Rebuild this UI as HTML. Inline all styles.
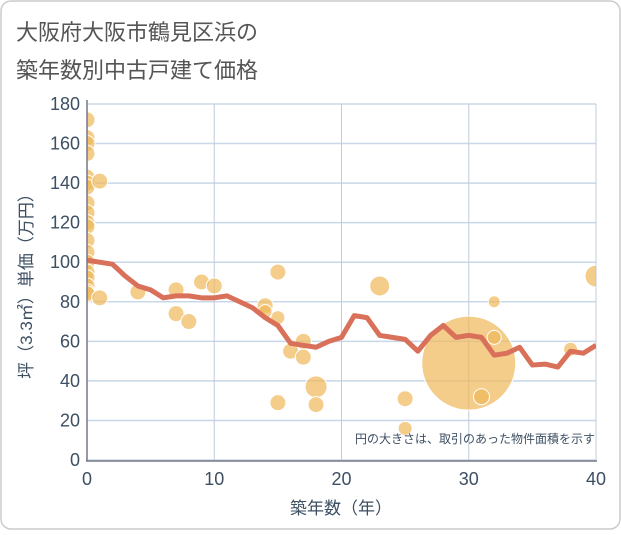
<!DOCTYPE html>
<html><head><meta charset="utf-8"><style>
body{margin:0;background:#fff;font-family:"Liberation Sans","Noto Sans CJK JP",sans-serif}
#wrap{position:relative;width:621px;height:530px}
</style></head><body>
<div id="wrap">
<svg id="c" width="621" height="530" xmlns="http://www.w3.org/2000/svg">
<defs><clipPath id="pc"><rect x="87" y="100" width="509" height="361"/></clipPath></defs>
<rect x="1" y="1" width="619" height="528" rx="10" fill="#fff" stroke="#ccc" stroke-width="1.5"/>
<text x="16" y="40" font-size="22" fill="#555" font-family="Liberation Sans,Noto Sans CJK JP,sans-serif">大阪府大阪市鶴見区浜の</text>
<text x="16" y="78" font-size="22" fill="#555" font-family="Liberation Sans,Noto Sans CJK JP,sans-serif">築年数別中古戸建て価格</text>
<g id="grid"></g><g id="bub" clip-path="url(#pc)"></g><g id="ln" clip-path="url(#pc)"></g><g id="ax"></g>
<text x="595" y="443" font-size="12" fill="#3d4f63" text-anchor="end" font-family="Liberation Sans,Noto Sans CJK JP,sans-serif">円の大きさは、取引のあった物件面積を示す</text>
<text x="341" y="514" font-size="17" fill="#3d4f63" text-anchor="middle" font-family="Liberation Sans,Noto Sans CJK JP,sans-serif">築年数（年）</text>
<text transform="translate(32,282) rotate(-90)" font-size="17" fill="#3d4f63" text-anchor="middle" font-family="Liberation Sans,Noto Sans CJK JP,sans-serif">坪（3.3㎡）単価（万円）</text>
</svg></div>
<script>
const xTicks=[0,10,20,30,40];
const yTicks=[0,20,40,60,80,100,120,140,160,180];
const lineYears=[0,2,3,4,5,6,7,8,9,10,11,12,13,14,15,16,17,18,19,20,21,22,23,24,25,26,27,28,29,30,31,32,33,34,35,36,37,38,39,40];
const lineValues=[101,99,93,88,86,82,83,83,82,82,83,80,77,72,68,59,58,57,60,62,73,72,63,62,61,55,63,68,62,63,62,53,54,57,48,48.5,47,55,54,58];
const bubbleX=[0,0,0,0,0,0,0,0,0,0,0,0,0,0,0,0,0,0,0,1,1,4,7,7,8,9,10,14,14,15,15,15,16,17,17,18,18,23,25,25,30,31,32,32,38,40];
const bubbleY=[172,163,160,155,143,140,138,130,125,120,118,111,105,100,95,92,88,85,84,141,82,85,86,74,70,90,88,78,75,95,72,29,55,60,52,37,28,88,31,16,49,32,80,62,56,93];
const bubbleR=[8,8,8,8,8,8,8,8,8,8,8,8,8,8,8,8,8,8,8,8,8,8,8,8,8,8,8,8,7,8,7,8,8,8,8,11,8,10,8,7,47,8,6,7,7,11];
const X=v=>87+v*(596-87)/40, Y=v=>460-v*(460-104)/180;
const NS="http://www.w3.org/2000/svg";
function mk(p,t,a){const e=document.createElementNS(NS,t);for(const k in a)e.setAttribute(k,a[k]);p.appendChild(e);return e;}
const g=document.getElementById('grid'),ax=document.getElementById('ax');
yTicks.forEach(v=>{const l=mk(g,'line',{x1:87,x2:596,y1:Y(v),y2:Y(v),stroke:'#c8d8e8','stroke-width':1.5});


const t=mk(ax,'text',{x:80,y:Y(v)+6,'font-size':18,fill:'#3d4f63','text-anchor':'end'});t.textContent=v;

});
xTicks.forEach(v=>{const l=mk(g,'line',{x1:X(v),x2:X(v),y1:104,y2:460,stroke:'#c0ccd8','stroke-width':1});


const t=mk(ax,'text',{x:X(v),y:485,'font-size':18,fill:'#3d4f63','text-anchor':'middle'});t.textContent=v;

});
const a1=mk(ax,'line',{x1:87,x2:87,y1:100,y2:461,stroke:'#778','stroke-width':1.5});


const a2=mk(ax,'line',{x1:86,x2:597,y1:461,y2:461,stroke:'#778','stroke-width':1.5});


const b=document.getElementById('bub');
bubbleX.forEach((x,i)=>{const c=mk(b,'circle',{cx:X(x),cy:Y(bubbleY[i]),r:bubbleR[i],fill:'#f0b85a','fill-opacity':0.7,stroke:'#fff','stroke-width':1});

});
const p=mk(document.getElementById('ln'),'polyline',{points:lineYears.map((x,i)=>X(x)+','+Y(lineValues[i])).join(' '),fill:'none',stroke:'#d9705a','stroke-width':5,'stroke-linejoin':'round'});


</script></body></html>
